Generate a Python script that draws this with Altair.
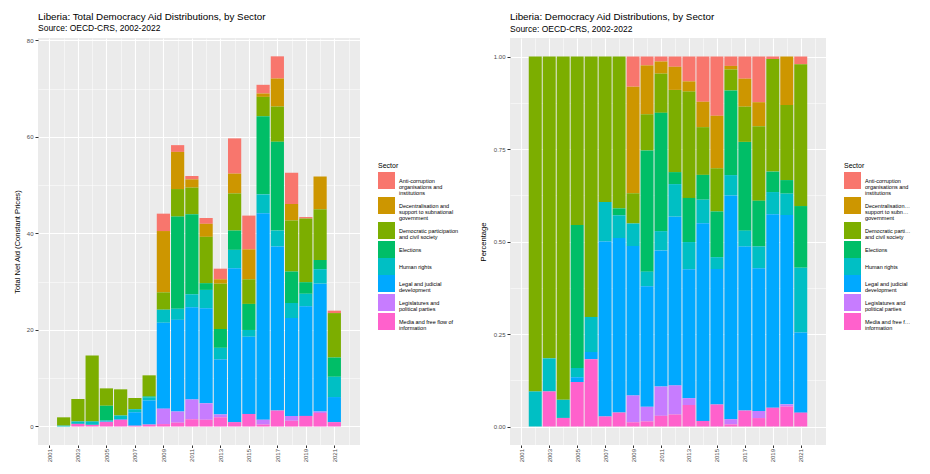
import altair as alt
import pandas as pd

years = list(range(2002, 2022))

sectors = [
    "Anti-corruption organisations and institutions",
    "Decentralisation and support to subnational government",
    "Democratic participation and civil society",
    "Elections",
    "Human rights",
    "Legal and judicial development",
    "Legislatures and political parties",
    "Media and free flow of information",
]
legend_lines = [
    ["Anti-corruption", "organisations and", "institutions"],
    ["Decentralisation and", "support to subnational", "government"],
    ["Democratic participation", "and civil society"],
    ["Elections"],
    ["Human rights"],
    ["Legal and judicial", "development"],
    ["Legislatures and", "political parties"],
    ["Media and free flow of", "information"],
]
colors = ["#F8766D", "#CD9600", "#7CAE00", "#00BE67", "#00BFC4", "#00A9FF", "#C77CFF", "#FF61CC"]

# values by year 2002..2021 (constant prices)
anti_corruption = [0, 0, 0, 0, 0, 0, 0, 3.6, 1.4, 0.7, 1.2, 2.2, 7.3, 7.0, 1.8, 4.6, 6.5, 0.3, 0, 0.5]
decentralisation = [0, 0, 0, 0, 0, 0, 0, 12.7, 7.7, 1.7, 2.7, 0.9, 4.1, 6.2, 0.7, 5.8, 3.4, 0, 6.8, 0]
democratic = [1.72, 4.65, 13.64, 3.6, 5.42, 2.32, 4.35, 3.6, 5.7, 5.5, 9.6, 9.4, 7.7, 5.1, 4.0, 7.3, 10.6, 13.2, 10.5, 9.2]
elections = [0, 0, 0, 3.05, 0, 0, 0.2, 0, 19.1, 16.6, 1.4, 3.9, 4.0, 5.4, 16.2, 18.4, 6.5, 2.4, 1.9, 4.0]
human_rights = [0.18, 0.51, 0.72, 0.2, 0.73, 0.63, 0.65, 2.7, 2.3, 2.7, 3.8, 2.4, 3.8, 1.4, 3.9, 3.3, 3.1, 2.6, 3.0, 4.2]
legal = [0, 0, 0, 0.1, 0.15, 2.79, 5.0, 17.8, 19.0, 19.1, 19.7, 11.4, 31.9, 16.0, 42.8, 34.0, 20.3, 22.7, 26.5, 5.2]
legislatures = [0, 0, 0, 0, 0, 0, 0, 3.2, 2.3, 4.1, 3.4, 0.6, 0, 0, 1.0, 0, 1.0, 0, 0.3, 0]
media = [0, 0.54, 0.34, 0.95, 1.4, 0.16, 0.4, 0.5, 0.8, 1.5, 1.4, 1.9, 0.9, 2.6, 0.4, 3.3, 1.2, 2.2, 2.8, 0.9]

series = [anti_corruption, decentralisation, democratic, elections,
          human_rights, legal, legislatures, media]

rows = []
for i, (s, vals) in enumerate(zip(sectors, series)):
    for yr, v in zip(years, vals):
        rows.append({"year": yr, "sector": s, "aid": v, "rank": len(sectors) - 1 - i})
df = pd.DataFrame(rows)

FONT = "Liberation Sans"
PLOT_H = 407

# multi-line legend labels
expr = "datum.label"
for s, lines in reversed(list(zip(sectors, legend_lines))):
    arr = "[" + ",".join("'" + l + "'" for l in lines) + "]"
    expr = f"datum.label == '{s}' ? {arr} : ({expr})"

x_axis = alt.Axis(
    title=None,
    values=list(range(2000, 2023)),
    labelExpr="datum.value % 2 == 1 ? format(datum.value, 'd') : ''",
    labelAngle=-90,
    labelFontSize=6,
    labelPadding=1,
    tickSize=2.5,
    tickOpacity={"condition": {"test": "datum.value % 2 == 1", "value": 1}, "value": 0},
    gridWidth={"condition": {"test": "datum.value % 2 == 1", "value": 1.1}, "value": 0.5},
)


def panel(title, ytitle, normalize, ydomain, yvalues, ytest, yfmt, width, barsize,
          extent, tpad, label_limit):
    y_axis = alt.Axis(
        title=ytitle,
        values=yvalues,
        labelExpr=f"{ytest} ? format(datum.value, '{yfmt}') : ''",
        labelFontSize=6,
        labelPadding=2,
        tickSize=3,
        tickOpacity={"condition": {"test": ytest, "value": 1}, "value": 0},
        gridWidth={"condition": {"test": ytest, "value": 1.1}, "value": 0.5},
        minExtent=extent,
        maxExtent=extent,
        titlePadding=tpad,
        titleFontSize=7.6,
    )
    return (
        alt.Chart(
            df,
            title=alt.Title(
                text=title,
                subtitle="Source: OECD-CRS, 2002-2022",
                anchor="start",
                frame="group",
                fontSize=9.8,
                fontWeight="normal",
                subtitleFontSize=8.5,
                subtitlePadding=3,
                offset=4.5,
                font=FONT,
                subtitleFont=FONT,
                color="black",
                subtitleColor="black",
            ),
        )
        .mark_bar(size=barsize)
        .encode(
            x=alt.X("year:Q", scale=alt.Scale(domain=[2000.55, 2022.45], nice=False, zero=False), axis=x_axis),
            y=alt.Y(
                "aid:Q",
                stack="normalize" if normalize else "zero",
                scale=alt.Scale(domain=ydomain, nice=False, zero=False),
                axis=y_axis,
            ),
            color=alt.Color(
                "sector:N",
                scale=alt.Scale(domain=sectors, range=colors),
                legend=alt.Legend(
                    title="Sector",
                    orient="none",
                    legendX=width + 18,
                    legendY=124,
                    symbolType="square",
                    symbolSize=289,
                    symbolStrokeWidth=0,
                    symbolOpacity=1,
                    labelFontSize=5.5,
                    titleFontSize=7,
                    titleFontWeight="normal",
                    titlePadding=3,
                    labelOffset=4,
                    labelExpr=expr,
                    rowPadding=0,
                    padding=0,
                    labelLimit=label_limit,
                ),
            ),
            order=alt.Order("rank:Q", sort="ascending"),
        )
        .properties(width=width, height=PLOT_H)
    )


left = panel(
    "Liberia: Total Democracy Aid Distributions, by Sector",
    "Total Net Aid (Constant Prices)",
    False,
    [-3.835, 80.5],
    list(range(0, 81, 10)),
    "datum.value % 20 == 0",
    "d",
    322,
    13.2,
    13,
    4,
    160,
)
right = panel(
    "Liberia: Democracy Aid Distributions, by Sector",
    "Percentage",
    True,
    [-0.05, 1.05],
    [i / 8 for i in range(9)],
    "round(datum.value * 8) % 2 == 0",
    ".2f",
    316,
    13,
    20,
    3,
    46,
)

chart = (
    alt.hconcat(left, right, spacing=21)
    .resolve_scale(color="independent")
    .resolve_legend(color="independent")
    .properties(padding={"top": 3, "left": 5, "right": 0, "bottom": 0})
    .configure_view(fill="#EBEBEB", strokeWidth=0)
    .configure_axis(
        labelFont=FONT,
        titleFont=FONT,
        labelColor="#4D4D4D",
        tickColor="#333333",
        gridColor="white",
        domain=False,
        titleFontWeight="normal",
        titleColor="black",
    )
    .configure_legend(labelFont=FONT, titleFont=FONT, labelColor="black", titleColor="black")
)

# tighter line spacing for the multi-line legend labels
try:
    chart.config.style = alt.StyleConfigIndex(**{"guide-label": alt.MarkConfig(lineHeight=6.3)})
    chart.to_dict()
except Exception:
    chart.config.style = alt.Undefined

chart.save("out.html", embed_options={"renderer": "svg", "actions": False})
